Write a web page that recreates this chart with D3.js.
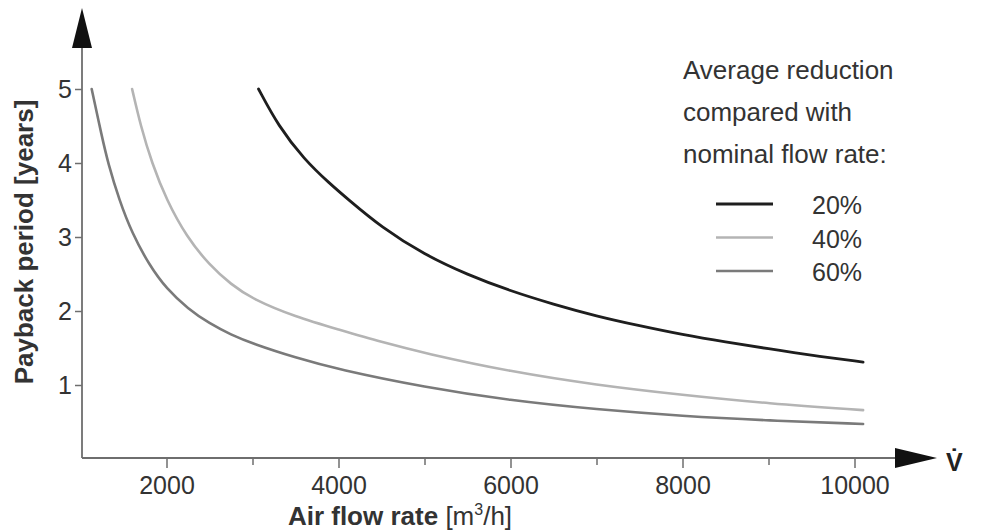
<!DOCTYPE html>
<html>
<head>
<meta charset="utf-8">
<script src="https://cdn.jsdelivr.net/npm/d3@7"></script>
<style>
  body { margin: 0; background: #fff; }
  svg { display: block; font-family: Arial, "Liberation Sans", Helvetica, sans-serif; }
</style>
</head>
<body>
<div id="chart"></div>
<script>
// values: [air flow rate m3/h, payback years]
let red20 = [[3070, 5.0], [3300, 4.5], [3600, 4.05], [3900, 3.72], [4100, 3.52], [4500, 3.13], [5000, 2.76],
    [5500, 2.49], [6000, 2.27], [6500, 2.09], [7000, 1.93], [7500, 1.80], [8000, 1.68], [8500, 1.58],
    [9000, 1.49], [9500, 1.40], [10100, 1.31]];
let red40 = [[1600, 5.0], [1700, 4.5], [1830, 4.0], [2000, 3.5], [2235, 3.0], [2500, 2.62], [2750, 2.36],
    [3000, 2.16], [3500, 1.92], [4000, 1.75], [4500, 1.58], [5000, 1.43], [6000, 1.18], [7000, 1.0],
    [8000, 0.865], [9000, 0.75], [10100, 0.66]];
let red60 = [[1130, 5.0], [1250, 4.35], [1320, 4.0], [1450, 3.5], [1600, 3.05], [1800, 2.62], [2000, 2.3],
    [2250, 2.03], [2500, 1.83], [2750, 1.68], [3000, 1.56], [3500, 1.37], [4000, 1.21], [5000, 0.97],
    [6000, 0.79], [7000, 0.67], [8000, 0.58], [9000, 0.52], [10100, 0.473]];

let seriesNames = ['20%', '40%', '60%'];
let seriesData = [red20, red40, red60];
let seriesColors = ['#1e1e1e', '#b4b4b4', '#7a7a7a'];
let seriesWidths = [2.8, 2.6, 2.6];

let xMajor = [2000, 4000, 6000, 8000, 10000];
let xMinor = [3000, 5000, 7000, 9000];
let yTicks = [1, 2, 3, 4, 5];
let legendTitle = ['Average reduction', 'compared with', 'nominal flow rate:'];

let width = 997, height = 531;
let axisColor = '#6e6e6e', textColor = '#333';

let svg = d3.select('#chart').append('svg')
    .attr('width', width)
    .attr('height', height);

let x = d3.scaleLinear().domain([1000, 10000]).range([80.5, 854.5]);
let y = d3.scaleLinear().domain([0, 5]).range([459, 89]);

let x0 = 82, y0 = 458;

// axes (ticks through d3, lines drawn out to the arrows)
let gx = svg.append('g').attr('transform', `translate(0,${y0})`)
    .call(d3.axisBottom(x).tickValues(xMajor).tickSize(10).tickSizeOuter(0).tickPadding(8)
        .tickFormat(d3.format('d')));
gx.select('.domain').remove();
gx.selectAll('line').attr('stroke', axisColor).attr('stroke-width', 1.5);
gx.selectAll('text').attr('font-size', 25).attr('fill', textColor).attr('font-family', null);

let gm = svg.append('g').attr('transform', `translate(0,${y0})`)
    .call(d3.axisBottom(x).tickValues(xMinor).tickSize(7).tickSizeOuter(0).tickFormat(''));
gm.select('.domain').remove();
gm.selectAll('line').attr('stroke', axisColor).attr('stroke-width', 1.5);

let gy = svg.append('g').attr('transform', `translate(${x0},0)`)
    .call(d3.axisLeft(y).tickValues(yTicks).tickSize(7).tickSizeOuter(0).tickPadding(3)
        .tickFormat(d3.format('d')));
gy.select('.domain').remove();
gy.selectAll('line').attr('stroke', axisColor).attr('stroke-width', 1.5);
gy.selectAll('text').attr('font-size', 25).attr('fill', textColor).attr('font-family', null);

svg.append('line').attr('x1', x0).attr('y1', y0).attr('x2', 898).attr('y2', y0)
    .attr('stroke', axisColor).attr('stroke-width', 1.8);
svg.append('line').attr('x1', x0).attr('y1', y0).attr('x2', x0).attr('y2', 46)
    .attr('stroke', axisColor).attr('stroke-width', 1.8);

// arrow heads
svg.append('path').attr('d', `M${x0},8 L${x0 + 10},48 L${x0 - 10},48 Z`).attr('fill', '#111');
svg.append('path').attr('d', `M937,${y0} L895,${y0 - 10} L895,${y0 + 10} Z`).attr('fill', '#111');
svg.append('text').attr('x', 946).attr('y', 471).attr('font-size', 25).attr('font-weight', 'bold')
    .attr('fill', '#222').text('V\u0307');

// curves
let line = d3.line().x(d => x(d[0])).y(d => y(d[1])).curve(d3.curveBasis);
svg.selectAll('.curve').data(seriesData).join('path')
    .attr('class', 'curve')
    .attr('d', line)
    .attr('fill', 'none')
    .attr('stroke', (d, i) => seriesColors[i])
    .attr('stroke-width', (d, i) => seriesWidths[i])
    .attr('stroke-linecap', 'round');

// axis titles
svg.append('text')
    .attr('transform', 'translate(33,242) rotate(-90)')
    .attr('text-anchor', 'middle')
    .attr('font-size', 26).attr('font-weight', 'bold').attr('fill', textColor)
    .text('Payback period [years]');

let xt = svg.append('text').attr('x', 400).attr('y', 525).attr('text-anchor', 'middle')
    .attr('font-size', 26).attr('fill', textColor);
xt.append('tspan').attr('font-weight', 'bold').text('Air flow rate ');
xt.append('tspan').text('[m');
xt.append('tspan').attr('font-size', 16).attr('dy', -10).text('3');
xt.append('tspan').attr('dy', 10).text('/h]');

// legend
let lg = svg.append('g');
lg.selectAll('.title').data(legendTitle).join('text')
    .attr('class', 'title')
    .attr('x', 683).attr('y', (d, i) => 79 + i * 42)
    .attr('font-size', 26).attr('fill', textColor)
    .text(d => d);
let items = lg.selectAll('.item').data(seriesNames).join('g')
    .attr('class', 'item')
    .attr('transform', (d, i) => `translate(0,${204 + i * 33.5})`);
items.append('line').attr('x1', 716).attr('x2', 773)
    .attr('stroke', (d, i) => seriesColors[i]).attr('stroke-width', (d, i) => seriesWidths[i]);
items.append('text').attr('x', 812).attr('y', 10).attr('font-size', 25).attr('fill', textColor)
    .text(d => d);
</script>
</body>
</html>
